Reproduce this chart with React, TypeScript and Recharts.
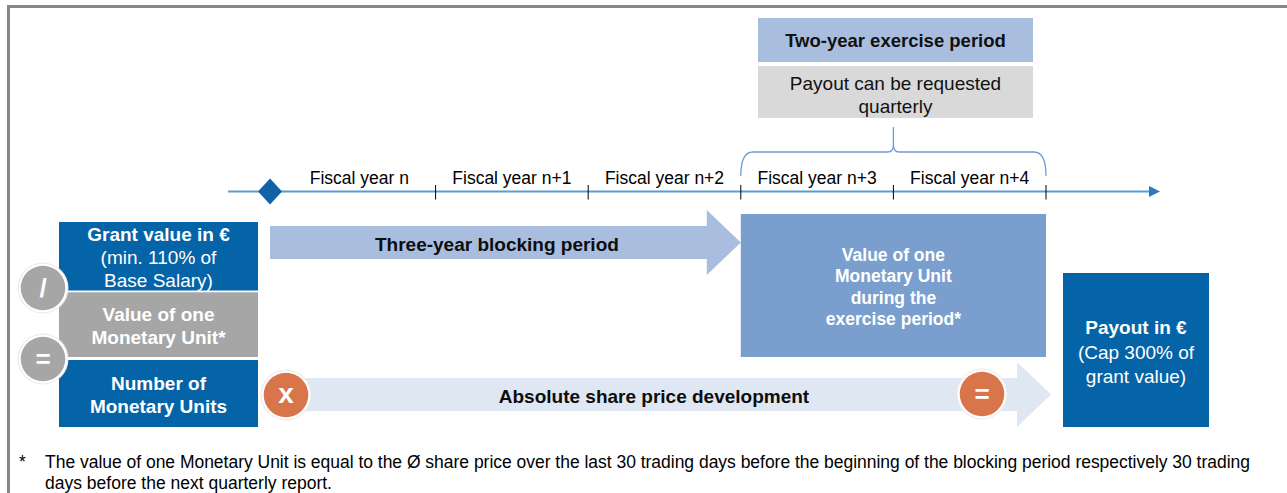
import React from 'react'
import { ComposedChart, XAxis, YAxis, ReferenceArea, ReferenceLine, ReferenceDot, Scatter } from 'recharts'

const W = 1287
const H = 493
const FONT = '"Liberation Sans", Arial, Helvetica, sans-serif'

// timeline, in fiscal years (0 = start of fiscal year n)
const fiscalYears = ['Fiscal year n', 'Fiscal year n+1', 'Fiscal year n+2', 'Fiscal year n+3', 'Fiscal year n+4']
const yearBoundaries = [1, 2, 3, 4, 5]
const grantDate = -0.085
const blockingYears = 3
const exerciseYears = 2

// texts
const blockingLabel = 'Three-year blocking period'
const exerciseTitle = 'Two-year exercise period'
const exerciseNote = ['Payout can be requested', 'quarterly']
const grantLines = ['Grant value in €', '(min. 110% of', 'Base Salary)']
const unitLines = ['Value of one', 'Monetary Unit*']
const countLines = ['Number of', 'Monetary Units']
const exerciseValueLines = ['Value of one', 'Monetary Unit', 'during the', 'exercise period*']
const sharePriceLabel = 'Absolute share price development'
const payoutLines = ['Payout in €', '(Cap 300% of', 'grant value)']
const operators = ['/', '=', 'x', '=']
const footnoteLines = [
  'The value of one Monetary Unit is equal to the Ø share price over the last 30 trading days before the beginning of the blocking period respectively 30 trading',
  'days before the next quarterly report.',
]

// year axis calibration: start of fiscal year n sits at 283px, one year is 152.6px
const YEAR_ORIGIN = 283
const YEAR_PX = 152.6
const yearDomain = [-YEAR_ORIGIN / YEAR_PX, (W - YEAR_ORIGIN) / YEAR_PX]

const DARK_BLUE = '#0563A7'
const GRAY = '#A6A6A6'
const MID_BLUE = '#7A9FCE'
const LIGHT_BLUE = '#A9BEDF'
const PALE_BLUE = '#DFE7F3'
const LIGHT_GRAY = '#D9D9D9'
const ORANGE = '#D8754A'
const LINE_BLUE = '#5B9BD5'

type LinesProps = { x: number; cy: number; lines: string[]; size: number; lh: number; fill: string; bold?: number }
const TextLines = ({ x, cy, lines, size, lh, fill, bold = 0 }: LinesProps) => {
  const top = cy - ((lines.length - 1) * lh) / 2
  return (
    <g>
      {lines.map((l, i) => (
        <text key={i} x={x} y={top + i * lh} dy="0.35em" textAnchor="middle" fontFamily={FONT}
          fontSize={size} fontWeight={i < bold ? 700 : 400} fill={fill}>{l}</text>
      ))}
    </g>
  )
}

type BoxOpts = { size: number; lh: number; bold: number; color?: string; dy?: number }
const boxShape = (fill: string, lines: string[], o: BoxOpts) => (p: any) => (
  <g>
    <rect x={p.x} y={p.y} width={p.width} height={p.height} fill={fill} />
    <TextLines x={p.x + p.width / 2} cy={p.y + p.height / 2 + (o.dy ?? 0)} lines={lines}
      size={o.size} lh={o.lh} fill={o.color ?? '#fff'} bold={o.bold} />
  </g>
)

const arrowShape = (fill: string, label: string, dx: number) => (p: any) => {
  const x0 = p.x
  const x1 = p.x + p.width
  const hx = x1 - 34
  const yt = p.y + 16
  const yb = p.y + 49
  const cy = p.y + p.height / 2
  const pts = `${x0},${yt} ${hx},${yt} ${hx},${p.y} ${x1},${cy} ${hx},${p.y + p.height} ${hx},${yb} ${x0},${yb}`
  return (
    <g>
      <polygon points={pts} fill={fill} />
      <text x={(x0 + hx) / 2 + dx} y={(yt + yb) / 2 + 1.5} dy="0.35em" textAnchor="middle" fontFamily={FONT}
        fontSize={19} fontWeight={700} fill="#0d0d0d">{label}</text>
    </g>
  )
}

const timelineShape = (p: any) => {
  const cy = p.y + p.height / 2
  const end = p.x + p.width
  return (
    <g>
      <line x1={p.x} y1={cy} x2={end - 8} y2={cy} stroke={LINE_BLUE} strokeWidth={2} />
      <polygon points={`${end - 11},${cy - 5.5} ${end},${cy} ${end - 11},${cy + 5.5}`} fill="#2E78BE" />
    </g>
  )
}

const braceShape = (p: any) => {
  const x = p.x
  const x2 = p.x + p.width
  const cx = p.x + p.width / 2
  const top = p.y
  const bottom = p.y + p.height
  const hy = top + 25
  const d = `M${x},${bottom} Q${x},${hy} ${x + 12},${hy} L${cx - 6},${hy} Q${cx},${hy} ${cx},${hy - 7} Q${cx},${hy} ${cx + 6},${hy} L${x2 - 12},${hy} Q${x2},${hy} ${x2},${bottom} M${cx},${hy - 7} L${cx},${top}`
  return <path d={d} fill="none" stroke="#6C9BD2" strokeWidth={1.3} />
}

const diamondShape = (p: any) => (
  <polygon points={`${p.cx},${p.cy - 13} ${p.cx + 12},${p.cy} ${p.cx},${p.cy + 13} ${p.cx - 12},${p.cy}`} fill="#1063A8" />
)

const operatorShape = (p: any) => {
  const { op, fill, size } = p.payload
  return (
    <g>
      <circle cx={p.cx} cy={p.cy} r={25.5} fill="#ECECEC" />
      <circle cx={p.cx} cy={p.cy} r={24.3} fill="#fff" />
      <circle cx={p.cx} cy={p.cy} r={22.3} fill={fill} />
      <text x={p.cx} y={p.cy} dy={op === 'x' ? '0.3em' : '0.36em'} textAnchor="middle" fontFamily={FONT}
        fontSize={size} fontWeight={700} fill="#fff">{op}</text>
    </g>
  )
}

const yearLabelShape = (p: any) => (
  <text x={p.cx} y={p.cy} dy="0.35em" textAnchor="middle" fontFamily={FONT} fontSize={17.5} fill="#000">
    {p.payload.label}
  </text>
)

const footnoteShape = (p: any) => (
  <g fontFamily={FONT} fontSize={17.5} fill="#000">
    <text x={19} y={p.y + 12} dy="0.35em">*</text>
    <text x={45} y={p.y + 12} dy="0.35em" textLength={1205} lengthAdjust="spacing">{footnoteLines[0]}</text>
    <text x={45} y={p.y + 33} dy="0.35em">{footnoteLines[1]}</text>
  </g>
)

// where each operator circle sits (px)
const operatorSpots = [
  { px: 43, py: 288, fill: GRAY, size: 26 },
  { px: 43, py: 359, fill: GRAY, size: 26 },
  { px: 286, py: 395, fill: ORANGE, size: 28 },
  { px: 982, py: 394, fill: ORANGE, size: 26 },
]

const App: React.FC = () => {
  const yearLabelData = fiscalYears.map((label, i) => ({ t: i + 0.5, py: 177.5, label }))
  const operatorData = operators.map((op, i) => ({ ...operatorSpots[i], op }))
  const ax = { xAxisId: 'px', yAxisId: 'px' }
  const yr = { xAxisId: 'yr', yAxisId: 'px' }

  return (
    <div style={{ position: 'absolute', left: 0, top: 0, width: W, height: H, background: '#fff' }}>
      <ComposedChart width={W} height={H} margin={{ top: 0, right: 0, bottom: 0, left: 0 }}>
        <XAxis xAxisId="px" type="number" dataKey="px" domain={[0, W]} hide allowDataOverflow />
        <XAxis xAxisId="yr" type="number" dataKey="t" domain={yearDomain} hide allowDataOverflow />
        <YAxis yAxisId="px" type="number" dataKey="py" domain={[0, H]} reversed hide allowDataOverflow />

        {/* frame */}
        <ReferenceLine {...ax} segment={[{ x: 7, y: 6.5 }, { x: W, y: 6.5 }]} stroke="#878787" strokeWidth={3} />
        <ReferenceLine {...ax} segment={[{ x: 8.5, y: 5 }, { x: 8.5, y: H }]} stroke="#878787" strokeWidth={3} />

        {/* exercise period header */}
        <ReferenceArea {...ax} x1={758} x2={1033} y1={18} y2={62}
          shape={boxShape(LIGHT_BLUE, [exerciseTitle], { size: 18.5, lh: 22, bold: 1, color: '#111', dy: 1 })} />
        <ReferenceArea {...ax} x1={758} x2={1033} y1={66} y2={118}
          shape={boxShape(LIGHT_GRAY, exerciseNote, { size: 19, lh: 23, bold: 0, color: '#111', dy: 2.5 })} />
        <ReferenceArea {...yr} x1={blockingYears} x2={blockingYears + exerciseYears} y1={127} y2={176} shape={braceShape} />

        {/* timeline */}
        <ReferenceArea {...yr} x1={-0.36} x2={5.747} y1={185} y2={198} shape={timelineShape} />
        {yearBoundaries.map((b) => (
          <ReferenceLine key={b} {...yr} segment={[{ x: b, y: 185 }, { x: b, y: 199.5 }]} stroke="#000" strokeWidth={1} />
        ))}
        <Scatter {...yr} data={yearLabelData} dataKey="py" shape={yearLabelShape} isAnimationActive={false} />
        <ReferenceDot {...yr} x={grantDate} y={191.5} r={13} shape={diamondShape} />

        {/* periods */}
        <ReferenceArea {...yr} x1={grantDate} x2={blockingYears} y1={210} y2={275}
          shape={arrowShape(LIGHT_BLUE, blockingLabel, 8.5)} />
        <ReferenceArea {...yr} x1={blockingYears} x2={blockingYears + exerciseYears} y1={214} y2={357}
          shape={boxShape(MID_BLUE, exerciseValueLines, { size: 17.5, lh: 21.3, bold: 4, dy: 1.5 })} />
        <ReferenceArea {...ax} x1={286} x2={1051} y1={362} y2={427}
          shape={arrowShape(PALE_BLUE, sharePriceLabel, 2.5)} />

        {/* formula boxes */}
        <ReferenceArea {...ax} x1={59} x2={258} y1={222} y2={290.5}
          shape={boxShape(DARK_BLUE, grantLines, { size: 19, lh: 23, bold: 1, dy: 1.5 })} />
        <ReferenceArea {...ax} x1={59} x2={258} y1={292.3} y2={357}
          shape={boxShape(GRAY, unitLines, { size: 19, lh: 23, bold: 2, dy: 1 })} />
        <ReferenceArea {...ax} x1={59} x2={258} y1={360} y2={427}
          shape={boxShape(DARK_BLUE, countLines, { size: 19, lh: 23, bold: 2, dy: 1 })} />
        <ReferenceArea {...ax} x1={1063} x2={1209} y1={273} y2={427}
          shape={boxShape(DARK_BLUE, payoutLines, { size: 19, lh: 24.5, bold: 1, dy: 2 })} />

        <Scatter {...ax} data={operatorData} dataKey="py" shape={operatorShape} isAnimationActive={false} />

        {/* footnote */}
        <ReferenceArea {...ax} x1={10} x2={1280} y1={450} y2={492} shape={footnoteShape} />
      </ComposedChart>
    </div>
  )
}

export default App
